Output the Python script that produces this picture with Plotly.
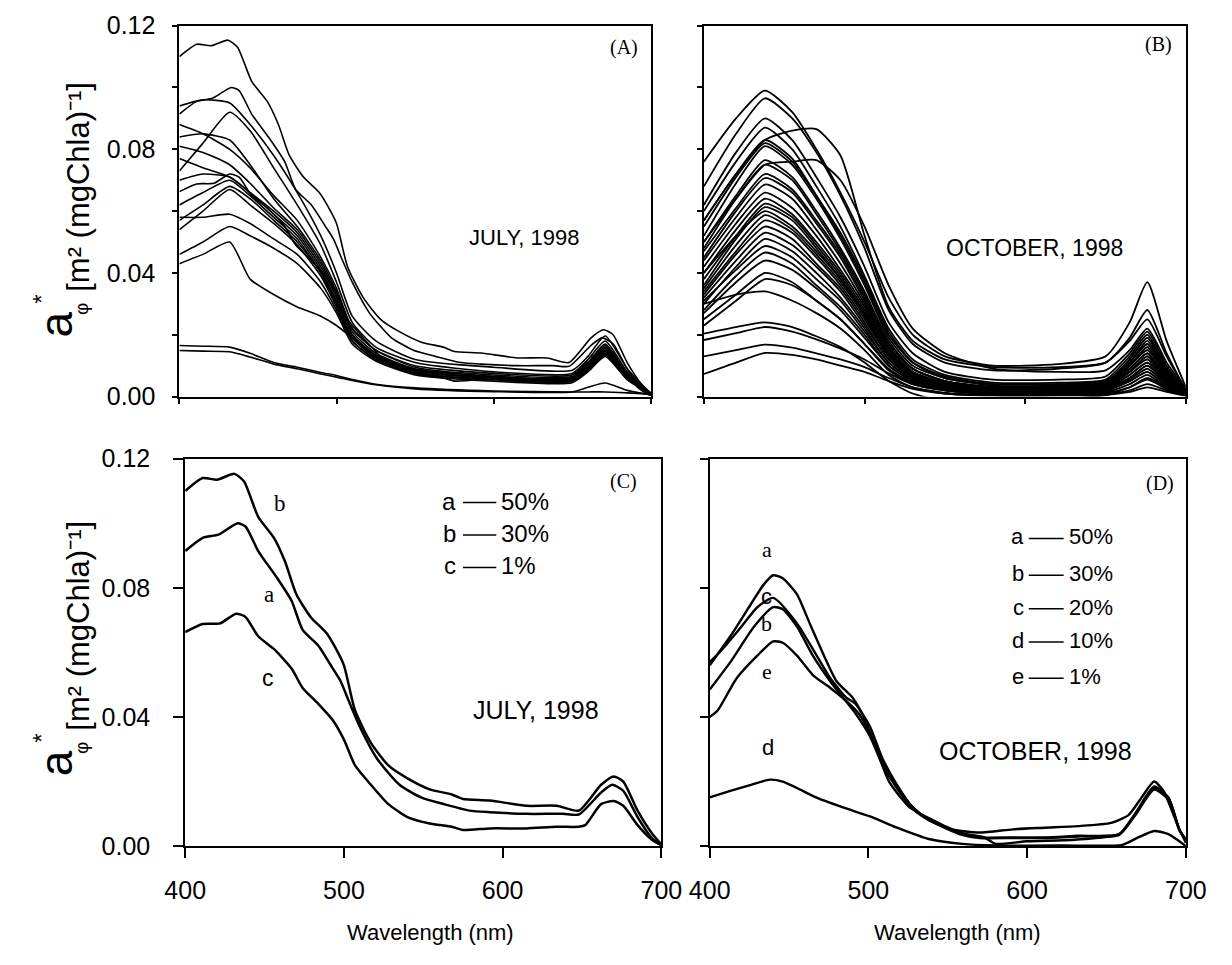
import plotly.graph_objects as go

# ---------------- data ----------------
# Panel A: July 1998, individual spectra (plus the three depth spectra of panel C)
july_wl = [400, 415, 432, 445, 460, 475, 490, 500, 510, 525, 550, 600, 650, 660, 671, 685, 700]
july_spectra = [
    [0.094, 0.096, 0.095, 0.088, 0.078, 0.066, 0.052, 0.040, 0.026, 0.018, 0.012, 0.0095, 0.0085, 0.013, 0.0196, 0.009, 0.001],
    [0.073, 0.082, 0.092, 0.086, 0.074, 0.062, 0.049, 0.037, 0.024, 0.016, 0.011, 0.008, 0.0075, 0.012, 0.018, 0.008, 0.001],
    [0.088, 0.085, 0.080, 0.074, 0.065, 0.057, 0.045, 0.035, 0.022, 0.015, 0.010, 0.0075, 0.007, 0.011, 0.017, 0.0075, 0.001],
    [0.084, 0.085, 0.083, 0.075, 0.064, 0.055, 0.044, 0.034, 0.022, 0.015, 0.0095, 0.007, 0.0065, 0.0105, 0.0165, 0.007, 0.0012],
    [0.081, 0.079, 0.075, 0.069, 0.061, 0.054, 0.043, 0.033, 0.021, 0.014, 0.009, 0.0065, 0.006, 0.010, 0.016, 0.007, 0.001],
    [0.077, 0.074, 0.071, 0.066, 0.059, 0.052, 0.041, 0.031, 0.020, 0.013, 0.0085, 0.006, 0.0055, 0.0095, 0.015, 0.0065, 0.001],
    [0.057, 0.062, 0.068, 0.064, 0.057, 0.050, 0.040, 0.030, 0.019, 0.013, 0.008, 0.006, 0.0055, 0.009, 0.0145, 0.006, 0.001],
    [0.054, 0.060, 0.067, 0.062, 0.056, 0.049, 0.039, 0.029, 0.018, 0.012, 0.0075, 0.0055, 0.005, 0.0085, 0.014, 0.006, 0.001],
    [0.058, 0.058, 0.059, 0.056, 0.051, 0.046, 0.037, 0.028, 0.018, 0.012, 0.0075, 0.0055, 0.005, 0.0085, 0.0135, 0.0055, 0.001],
    [0.046, 0.050, 0.055, 0.052, 0.048, 0.043, 0.035, 0.027, 0.017, 0.0115, 0.007, 0.005, 0.0045, 0.008, 0.013, 0.0055, 0.001],
    [0.043, 0.046, 0.050, 0.038, 0.033, 0.029, 0.026, 0.023, 0.019, 0.013, 0.0086, 0.006, 0.005, 0.0085, 0.0135, 0.006, 0.001],
    [0.070, 0.072, 0.071, 0.066, 0.060, 0.053, 0.042, 0.032, 0.020, 0.0135, 0.0088, 0.0065, 0.006, 0.0098, 0.0155, 0.0065, 0.001],
    [0.062, 0.066, 0.070, 0.065, 0.058, 0.051, 0.040, 0.030, 0.019, 0.0125, 0.008, 0.0062, 0.0058, 0.0092, 0.0148, 0.006, 0.001],
    [0.0165, 0.0163, 0.016, 0.014, 0.011, 0.0095, 0.0078, 0.0068, 0.0055, 0.004, 0.0028, 0.0018, 0.0015, 0.0015, 0.0015, 0.0012, 0.0008],
    [0.0149, 0.0147, 0.0145, 0.0128, 0.0105, 0.009, 0.0073, 0.0063, 0.0052, 0.0038, 0.0025, 0.0016, 0.0015, 0.003, 0.0044, 0.002, 0.0005],
]

# Panel B: October 1998, individual spectra
oct_wl = [400, 420, 438, 455, 470, 485, 500, 515, 530, 550, 580, 620, 650, 665, 676, 688, 700]
oct_spectra = [
    [0.076, 0.090, 0.099, 0.092, 0.080, 0.066, 0.050, 0.032, 0.020, 0.013, 0.010, 0.0105, 0.013, 0.024, 0.037, 0.018, 0.003],
    [0.068, 0.085, 0.0965, 0.090, 0.079, 0.065, 0.048, 0.028, 0.017, 0.011, 0.0085, 0.009, 0.011, 0.019, 0.028, 0.014, 0.002],
    [0.057, 0.072, 0.083, 0.086, 0.0865, 0.078, 0.052, 0.029, 0.018, 0.012, 0.0095, 0.0095, 0.011, 0.018, 0.025, 0.013, 0.002],
    [0.050, 0.064, 0.075, 0.076, 0.0765, 0.070, 0.055, 0.036, 0.022, 0.014, 0.009, 0.008, 0.0085, 0.015, 0.022, 0.011, 0.002],
    [0.062, 0.079, 0.090, 0.083, 0.071, 0.058, 0.042, 0.024, 0.014, 0.008, 0.0055, 0.0055, 0.0065, 0.014, 0.021, 0.010, 0.0015],
    [0.060, 0.076, 0.087, 0.080, 0.068, 0.055, 0.039, 0.022, 0.012, 0.007, 0.0045, 0.0045, 0.0055, 0.013, 0.020, 0.009, 0.0015],
    [0.057, 0.072, 0.083, 0.077, 0.065, 0.052, 0.037, 0.020, 0.011, 0.0065, 0.004, 0.004, 0.005, 0.012, 0.019, 0.009, 0.001],
    [0.055, 0.071, 0.082, 0.076, 0.065, 0.053, 0.038, 0.021, 0.011, 0.006, 0.004, 0.004, 0.005, 0.011, 0.018, 0.008, 0.001],
    [0.052, 0.069, 0.081, 0.075, 0.064, 0.051, 0.036, 0.019, 0.010, 0.006, 0.0035, 0.0035, 0.0045, 0.012, 0.019, 0.009, 0.001],
    [0.050, 0.065, 0.0765, 0.071, 0.060, 0.048, 0.034, 0.018, 0.009, 0.005, 0.003, 0.003, 0.004, 0.011, 0.017, 0.008, 0.001],
    [0.048, 0.064, 0.075, 0.070, 0.059, 0.047, 0.033, 0.017, 0.009, 0.005, 0.003, 0.003, 0.004, 0.010, 0.016, 0.007, 0.001],
    [0.047, 0.061, 0.072, 0.067, 0.057, 0.046, 0.032, 0.017, 0.009, 0.005, 0.003, 0.0035, 0.0045, 0.011, 0.017, 0.008, 0.001],
    [0.045, 0.060, 0.0707, 0.066, 0.056, 0.045, 0.031, 0.016, 0.008, 0.0045, 0.003, 0.003, 0.004, 0.010, 0.015, 0.007, 0.001],
    [0.044, 0.058, 0.0686, 0.064, 0.054, 0.043, 0.030, 0.016, 0.008, 0.0045, 0.003, 0.003, 0.004, 0.010, 0.016, 0.007, 0.001],
    [0.042, 0.056, 0.066, 0.061, 0.052, 0.041, 0.029, 0.015, 0.0075, 0.004, 0.0025, 0.0025, 0.0035, 0.009, 0.014, 0.006, 0.001],
    [0.040, 0.054, 0.064, 0.059, 0.050, 0.040, 0.028, 0.015, 0.0075, 0.004, 0.0025, 0.003, 0.004, 0.010, 0.015, 0.007, 0.001],
    [0.038, 0.052, 0.0624, 0.058, 0.049, 0.039, 0.027, 0.014, 0.007, 0.004, 0.0025, 0.0025, 0.0035, 0.009, 0.014, 0.006, 0.001],
    [0.036, 0.051, 0.0613, 0.057, 0.048, 0.038, 0.026, 0.014, 0.007, 0.004, 0.0025, 0.0025, 0.0035, 0.008, 0.013, 0.006, 0.001],
    [0.040, 0.052, 0.060, 0.055, 0.047, 0.038, 0.027, 0.014, 0.007, 0.0035, 0.002, 0.002, 0.003, 0.008, 0.012, 0.0055, 0.001],
    [0.035, 0.049, 0.0587, 0.054, 0.046, 0.037, 0.026, 0.013, 0.0065, 0.0035, 0.002, 0.0025, 0.0035, 0.009, 0.014, 0.006, 0.001],
    [0.034, 0.047, 0.057, 0.053, 0.045, 0.036, 0.025, 0.013, 0.0065, 0.0035, 0.002, 0.002, 0.003, 0.008, 0.013, 0.006, 0.001],
    [0.033, 0.046, 0.055, 0.051, 0.043, 0.035, 0.024, 0.012, 0.006, 0.003, 0.002, 0.002, 0.003, 0.008, 0.012, 0.0055, 0.001],
    [0.032, 0.044, 0.053, 0.049, 0.042, 0.034, 0.023, 0.012, 0.006, 0.003, 0.0015, 0.002, 0.003, 0.007, 0.011, 0.005, 0.001],
    [0.030, 0.042, 0.051, 0.047, 0.040, 0.032, 0.022, 0.011, 0.0055, 0.003, 0.0015, 0.0015, 0.0025, 0.007, 0.011, 0.005, 0.0005],
    [0.031, 0.041, 0.0487, 0.045, 0.038, 0.031, 0.021, 0.011, 0.0055, 0.003, 0.0015, 0.0015, 0.0025, 0.006, 0.010, 0.0045, 0.0005],
    [0.028, 0.039, 0.0466, 0.043, 0.036, 0.029, 0.020, 0.010, 0.005, 0.0025, 0.001, 0.0015, 0.0025, 0.006, 0.010, 0.0045, 0.0005],
    [0.027, 0.037, 0.044, 0.041, 0.035, 0.028, 0.019, 0.010, 0.005, 0.0025, 0.001, 0.0015, 0.002, 0.0055, 0.009, 0.004, 0.0005],
    [0.025, 0.033, 0.040, 0.037, 0.031, 0.025, 0.017, 0.0085, 0.004, 0.002, 0.001, 0.001, 0.002, 0.005, 0.008, 0.0035, 0.0005],
    [0.023, 0.031, 0.038, 0.036, 0.031, 0.025, 0.017, 0.009, 0.0045, 0.002, 0.001, 0.0015, 0.002, 0.005, 0.008, 0.0035, 0.0005],
    [0.030, 0.033, 0.034, 0.031, 0.027, 0.022, 0.015, 0.007, 0.003, 0.001, 0.0005, 0.001, 0.0015, 0.004, 0.007, 0.003, 0.0005],
    [0.0204, 0.0225, 0.024, 0.0225, 0.0195, 0.016, 0.011, 0.005, 0.001, -0.0015, -0.002, -0.001, 0.0005, 0.003, 0.006, 0.003, 0.0005],
    [0.0183, 0.0205, 0.0225, 0.021, 0.0185, 0.0155, 0.012, 0.0075, 0.004, 0.002, 0.0008, 0.0008, 0.0012, 0.003, 0.0055, 0.0025, 0.0003],
    [0.013, 0.015, 0.0168, 0.0158, 0.014, 0.012, 0.0095, 0.006, 0.003, 0.0012, 0.0005, 0.0005, 0.0008, 0.002, 0.004, 0.002, 0.0003],
    [0.0073, 0.011, 0.0141, 0.0135, 0.012, 0.010, 0.008, 0.005, 0.0025, 0.001, 0.0003, 0.0003, 0.0005, 0.0015, 0.003, 0.0015, 0.0002],
]

# Panel C: July 1998, light levels a=50 %, b=30 %, c=1 %
c_a_wl = [400, 411, 421, 433, 438, 446, 458, 467, 474, 484, 493, 498, 503, 510, 521, 535, 549, 563, 579, 592, 615, 638, 648, 662, 669, 676, 685, 694, 700]
c_a = [0.0914, 0.0955, 0.0965, 0.100, 0.099, 0.0914, 0.083, 0.076, 0.067, 0.062, 0.055, 0.051, 0.045, 0.037, 0.027, 0.019, 0.015, 0.013, 0.011, 0.0105, 0.010, 0.010, 0.0098, 0.0166, 0.019, 0.0171, 0.009, 0.0025, 0.0003]
c_b_wl = [400, 411, 420, 431, 437, 446, 456, 463, 470, 479, 489, 494, 500, 507, 517, 528, 540, 554, 568, 575, 592, 615, 634, 648, 662, 670, 676, 685, 694, 700]
c_b = [0.110, 0.114, 0.1135, 0.1153, 0.113, 0.102, 0.0954, 0.088, 0.078, 0.071, 0.066, 0.062, 0.056, 0.042, 0.032, 0.025, 0.021, 0.0176, 0.016, 0.0146, 0.0141, 0.0125, 0.0125, 0.011, 0.019, 0.0216, 0.020, 0.011, 0.004, 0.0005]
c_c_wl = [400, 411, 422, 432, 438, 446, 456, 467, 474, 484, 493, 500, 507, 517, 528, 540, 554, 568, 575, 592, 615, 634, 648, 652, 662, 670, 676, 685, 694, 700]
c_c = [0.0663, 0.0688, 0.069, 0.072, 0.071, 0.065, 0.061, 0.055, 0.049, 0.044, 0.039, 0.033, 0.025, 0.019, 0.013, 0.009, 0.007, 0.006, 0.005, 0.0055, 0.0055, 0.006, 0.006, 0.0065, 0.013, 0.014, 0.0125, 0.0065, 0.002, 0.0003]

# Panel D: October 1998, light levels a=50 %, b=30 %, c=20 %, d=10 %, e=1 %
d_a_wl = [400, 413, 426, 434, 440, 446, 455, 463, 472, 480, 490, 497, 505, 513, 526, 538, 553, 570, 591, 611, 632, 653, 664, 672, 680, 686, 695, 700]
d_a = [0.056, 0.065, 0.075, 0.081, 0.0839, 0.083, 0.078, 0.069, 0.059, 0.051, 0.046, 0.040, 0.030, 0.020, 0.012, 0.0087, 0.0052, 0.0042, 0.0052, 0.0057, 0.0062, 0.0072, 0.0097, 0.015, 0.020, 0.017, 0.0062, 0.001]
d_b_wl = [400, 413, 428, 440, 446, 455, 465, 476, 484, 492, 501, 509, 518, 528, 538, 559, 570, 591, 611, 632, 658, 668, 680, 689, 696, 700]
d_b = [0.0485, 0.057, 0.068, 0.074, 0.0734, 0.068, 0.059, 0.051, 0.046, 0.041, 0.034, 0.025, 0.018, 0.012, 0.0082, 0.0037, 0.0027, 0.0027, 0.0027, 0.0032, 0.0037, 0.010, 0.018, 0.015, 0.005, 0.002]
d_c_wl = [400, 408, 420, 430, 440, 455, 465, 476, 486, 492, 501, 509, 518, 528, 538, 559, 573, 580, 600, 630, 658, 668, 680, 689, 696, 700]
d_c = [0.057, 0.061, 0.068, 0.074, 0.0769, 0.069, 0.061, 0.052, 0.046, 0.044, 0.037, 0.027, 0.019, 0.012, 0.0082, 0.004, 0.0027, 0.0007, 0.0015, 0.002, 0.0037, 0.010, 0.0185, 0.015, 0.005, 0.002]
d_d_wl = [400, 413, 426, 438, 446, 455, 467, 484, 501, 518, 538, 559, 580, 622, 660, 670, 680, 689, 700]
d_d = [0.0151, 0.0171, 0.019, 0.0206, 0.020, 0.018, 0.0151, 0.012, 0.0092, 0.0057, 0.0022, 0.0007, 0.0002, 0.0002, 0.0004, 0.0027, 0.0047, 0.0037, 0.0]
d_e_wl = [400, 405, 417, 430, 440, 446, 455, 465, 476, 486, 494, 501, 509, 518, 528, 538, 559, 570, 591, 611, 632, 658, 668, 680, 689, 696, 700]
d_e = [0.040, 0.042, 0.052, 0.059, 0.0634, 0.063, 0.059, 0.053, 0.049, 0.045, 0.041, 0.035, 0.026, 0.018, 0.0115, 0.008, 0.0035, 0.0025, 0.0025, 0.0025, 0.003, 0.0035, 0.0095, 0.0175, 0.0145, 0.0048, 0.002]

# keys (light level of each labelled curve)
c_key = [("a", "50%"), ("b", "30%"), ("c", "1%")]
d_key = [("a", "50%"), ("b", "30%"), ("c", "20%"), ("d", "10%"), ("e", "1%")]

x_ticks = [400, 500, 600, 700]
y_ticks = [0.00, 0.04, 0.08, 0.12]
y_text = ["0.00", "0.04", "0.08", "0.12"]
y_minor = [0.02, 0.06, 0.10]
y_ticks_fine = [0.00, 0.02, 0.04, 0.06, 0.08, 0.10, 0.12]

# ---------------- figure ----------------
W, H = 1232, 965
def px(xp):
    return xp / W
def py(yp):
    return 1 - yp / H

fig = go.Figure()

def add_line(x, y, xa, ya, width):
    fig.add_trace(go.Scatter(x=x, y=y, mode="lines", xaxis=xa, yaxis=ya,
                             line=dict(color="black", width=width, shape="spline", smoothing=0.6),
                             showlegend=False, hoverinfo="skip"))

for s in july_spectra:
    add_line(july_wl, s, "x", "y", 1.6)
for wl, s in [(c_a_wl, c_a), (c_b_wl, c_b), (c_c_wl, c_c)]:
    add_line(wl, s, "x", "y", 1.6)
for s in oct_spectra:
    add_line(oct_wl, s, "x2", "y2", 1.8)
for wl, s in [(c_a_wl, c_a), (c_b_wl, c_b), (c_c_wl, c_c)]:
    add_line(wl, s, "x3", "y3", 2.5)
for wl, s in [(d_a_wl, d_a), (d_b_wl, d_b), (d_c_wl, d_c), (d_d_wl, d_d), (d_e_wl, d_e)]:
    add_line(wl, s, "x4", "y4", 2.4)

sans = "Liberation Sans, Arial, Helvetica, sans-serif"
serif = "Liberation Serif, Times New Roman, serif"
tickfont = dict(family=sans, size=25, color="black")

common = dict(showline=True, mirror=True, linecolor="black", linewidth=2,
              showgrid=False, zeroline=False, ticks="outside", tickcolor="black",
              tickwidth=2, tickfont=tickfont)

top_y = [py(394), py(12)]
bot_y = [py(857), py(458)]

fig.update_layout(
    width=W, height=H, margin=dict(l=0, r=0, t=0, b=0),
    paper_bgcolor="white", plot_bgcolor="white", showlegend=False,
    xaxis=dict(domain=[px(164), px(652)], anchor="y", range=[400, 700], tickvals=x_ticks,
               showticklabels=False, ticklen=5, **common),
    yaxis=dict(domain=top_y, anchor="x", range=[0, 0.12], tickvals=y_ticks, ticktext=y_text,
               ticklen=5, ticklabelstandoff=12,
               minor=dict(tickvals=y_minor, ticks="outside", ticklen=5, tickwidth=2, tickcolor="black", showgrid=False),
               **common),
    xaxis2=dict(domain=[px(707), px(1206)], anchor="y2", range=[400, 700], tickvals=x_ticks,
                showticklabels=False, ticklen=5, **common),
    yaxis2=dict(domain=top_y, anchor="x2", range=[0, 0.12], tickvals=y_ticks_fine,
                showticklabels=False, ticklen=5, **common),
    xaxis3=dict(domain=[px(170), px(663)], anchor="y3", range=[400, 700], tickvals=x_ticks,
                ticklen=10, ticklabelstandoff=11, **common),
    yaxis3=dict(domain=bot_y, anchor="x3", range=[0, 0.12], tickvals=y_ticks, ticktext=y_text,
                ticklen=10, ticklabelstandoff=18, **common),
    xaxis4=dict(domain=[px(713), px(1206)], anchor="y4", range=[400, 700], tickvals=x_ticks,
                ticklen=10, ticklabelstandoff=11, **common),
    yaxis4=dict(domain=bot_y, anchor="x4", range=[0, 0.12], tickvals=y_ticks,
                showticklabels=False, ticklen=8, **common),
)

ann = []
shapes = []
def text(x, y, t, xref, yref, size, family=sans, xanchor="center", yanchor="middle", angle=0):
    ann.append(dict(x=x, y=y, text=t, xref=xref, yref=yref, showarrow=False,
                    xanchor=xanchor, yanchor=yanchor, textangle=angle,
                    font=dict(family=family, size=size, color="black")))

# panel tags
text(683, 0.113, "(A)", "x", "y", 20, serif)
text(683, 0.114, "(B)", "x2", "y2", 20, serif)
text(676, 0.1129, "(C)", "x3", "y3", 20, serif)
text(684, 0.1122, "(D)", "x4", "y4", 20, serif)

# month labels
text(619.5, 0.0516, "JULY, 1998", "x", "y", 22)
text(606, 0.0482, "OCTOBER, 1998", "x2", "y2", 23)
text(621, 0.0422, "JULY, 1998", "x3", "y3", 25)
text(605, 0.0296, "OCTOBER, 1998", "x4", "y4", 25)

# curve letters in C
text(460, 0.106, "b", "x3", "y3", 23, serif)
text(453, 0.0778, "a", "x3", "y3", 23, serif)
text(452, 0.052, "c", "x3", "y3", 23, sans)
# curve letters in D
text(436, 0.0918, "a", "x4", "y4", 22, serif)
text(436, 0.0774, "c", "x4", "y4", 22, sans)
text(436, 0.069, "b", "x4", "y4", 22, serif)
text(436, 0.054, "e", "x4", "y4", 22, serif)
text(437, 0.0306, "d", "x4", "y4", 22, sans)

# key in C (rows stacked downward from the top row)
c_rows = [0.1069, 0.0969, 0.0868]
for (letter, pct), v in zip(c_key, c_rows):
    text(572, v, letter, "x3", "y3", 24, sans, xanchor="right")
    shapes.append(dict(type="line", xref="x3", yref="y3", x0=575, x1=596, y0=v - 0.0005, y1=v - 0.0005,
                       line=dict(color="black", width=1.5)))
    text(598, v, pct, "x3", "y3", 24, sans, xanchor="left")
# key in D
d_rows = [0.0958, 0.0844, 0.0740, 0.0637, 0.0525]
for (letter, pct), v in zip(d_key, d_rows):
    text(599, v, letter, "x4", "y4", 22, sans, xanchor="right")
    shapes.append(dict(type="line", xref="x4", yref="y4", x0=601, x1=623, y0=v - 0.0005, y1=v - 0.0005,
                       line=dict(color="black", width=1.5)))
    text(625, v, pct, "x4", "y4", 22, sans, xanchor="left")

# y axis titles (rotated), built from plain-text pieces
for dy in (0, 452):
    text(px(36), py(320 + dy), "a", "paper", "paper", 46, sans, angle=-90)
    text(px(21), py(294 + dy), "*", "paper", "paper", 24, sans, angle=-90)
    text(px(62), py(304 + dy), "φ", "paper", "paper", 19, sans, angle=-90)
    text(px(60), py(178 + dy), "[m² (mgChla)⁻¹]", "paper", "paper", 31, sans, angle=-90)

# x axis titles
text(px(424), py(946), "Wavelength (nm)", "paper", "paper", 22, sans)
text(px(970), py(946), "Wavelength (nm)", "paper", "paper", 22, sans)

fig.update_layout(annotations=ann, shapes=shapes)
fig.write_html("out.html")
